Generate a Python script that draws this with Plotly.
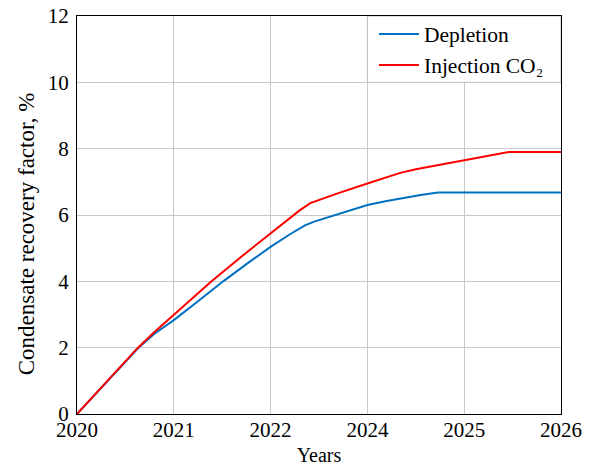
import plotly.graph_objects as go

# x positions in tick-units (0 = 2020 tick, 5 = 2026 tick)
tick_pos = [0, 1, 2, 3, 4, 5]
tick_labels = ["2020", "2021", "2022", "2024", "2025", "2026"]

depl_x = [0, 0.3, 0.63, 0.8, 1.0, 1.25, 1.51, 1.75, 2.0, 2.2, 2.355, 2.45, 2.6, 2.8, 3.0, 3.2, 3.34, 3.55, 3.73, 5.0]
depl_y = [0, 0.95, 1.98, 2.42, 2.83, 3.4, 4.0, 4.52, 5.04, 5.42, 5.69, 5.8, 5.93, 6.12, 6.3, 6.42, 6.5, 6.6, 6.68, 6.68]

inj_x = [0, 0.3, 0.63, 0.8, 1.0, 1.2, 1.39, 1.7, 2.0, 2.15, 2.3, 2.41, 2.5, 2.7, 3.0, 3.2, 3.34, 3.5, 3.75, 4.0, 4.25, 4.46, 5.0]
inj_y = [0, 0.96, 2.0, 2.47, 2.98, 3.5, 4.0, 4.75, 5.45, 5.8, 6.14, 6.36, 6.46, 6.66, 6.95, 7.13, 7.27, 7.38, 7.52, 7.65, 7.78, 7.9, 7.9]

font = '"Liberation Serif", "Times New Roman", serif'

fig = go.Figure()
fig.add_trace(go.Scatter(x=depl_x, y=depl_y, mode="lines", name="Depletion",
                         line=dict(color="#0070C0", width=2)))
fig.add_trace(go.Scatter(x=inj_x, y=inj_y, mode="lines", name="Injection CO₂",
                         line=dict(color="#FF0000", width=2)))

fig.add_shape(type="rect", xref="x", yref="y", x0=3, x1=5, y0=10, y1=12,
              fillcolor="white", line=dict(color="#c0c0c0", width=1), layer="between")

fig.add_annotation(text="Condensate recovery factor, %", xref="paper", yref="paper",
                   x=-0.105, y=0.452, textangle=-90, showarrow=False,
                   xanchor="center", yanchor="middle",
                   font=dict(family=font, size=23, color="black"))

fig.update_layout(
    width=595, height=466,
    margin=dict(l=77, r=34, t=16, b=52),
    paper_bgcolor="white", plot_bgcolor="white",
    font=dict(family=font, size=20, color="black"),
    showlegend=True,
    legend=dict(x=0.6136, y=1.006, xanchor="left", yanchor="top",
                bgcolor="rgba(0,0,0,0)", borderwidth=0,
                font=dict(family=font, size=21.5), tracegroupgap=0,
                itemwidth=40),
    xaxis=dict(range=[0, 5], tickmode="array", tickvals=tick_pos, ticktext=tick_labels,
               showgrid=True, gridcolor="#c8c8c8", gridwidth=1,
               showline=True, linecolor="black", linewidth=1, mirror=True,
               ticks="", tickfont=dict(family=font, size=21), automargin=False,
               ticklabelstandoff=-3,
               title=dict(text="Years", font=dict(family=font, size=20), standoff=15),
               zeroline=False),
    yaxis=dict(range=[0, 12], tickmode="array", tickvals=[0, 2, 4, 6, 8, 10, 12],
               showgrid=True, gridcolor="#c8c8c8", gridwidth=1,
               showline=True, linecolor="black", linewidth=1, mirror=True,
               ticks="", tickfont=dict(family=font, size=21), automargin=False,
               ticklabelstandoff=3,
               zeroline=False),
)

fig.write_html("out.html", config={"displayModeBar": False},
               post_script="document.body.style.margin='0';document.body.style.overflow='hidden';")
